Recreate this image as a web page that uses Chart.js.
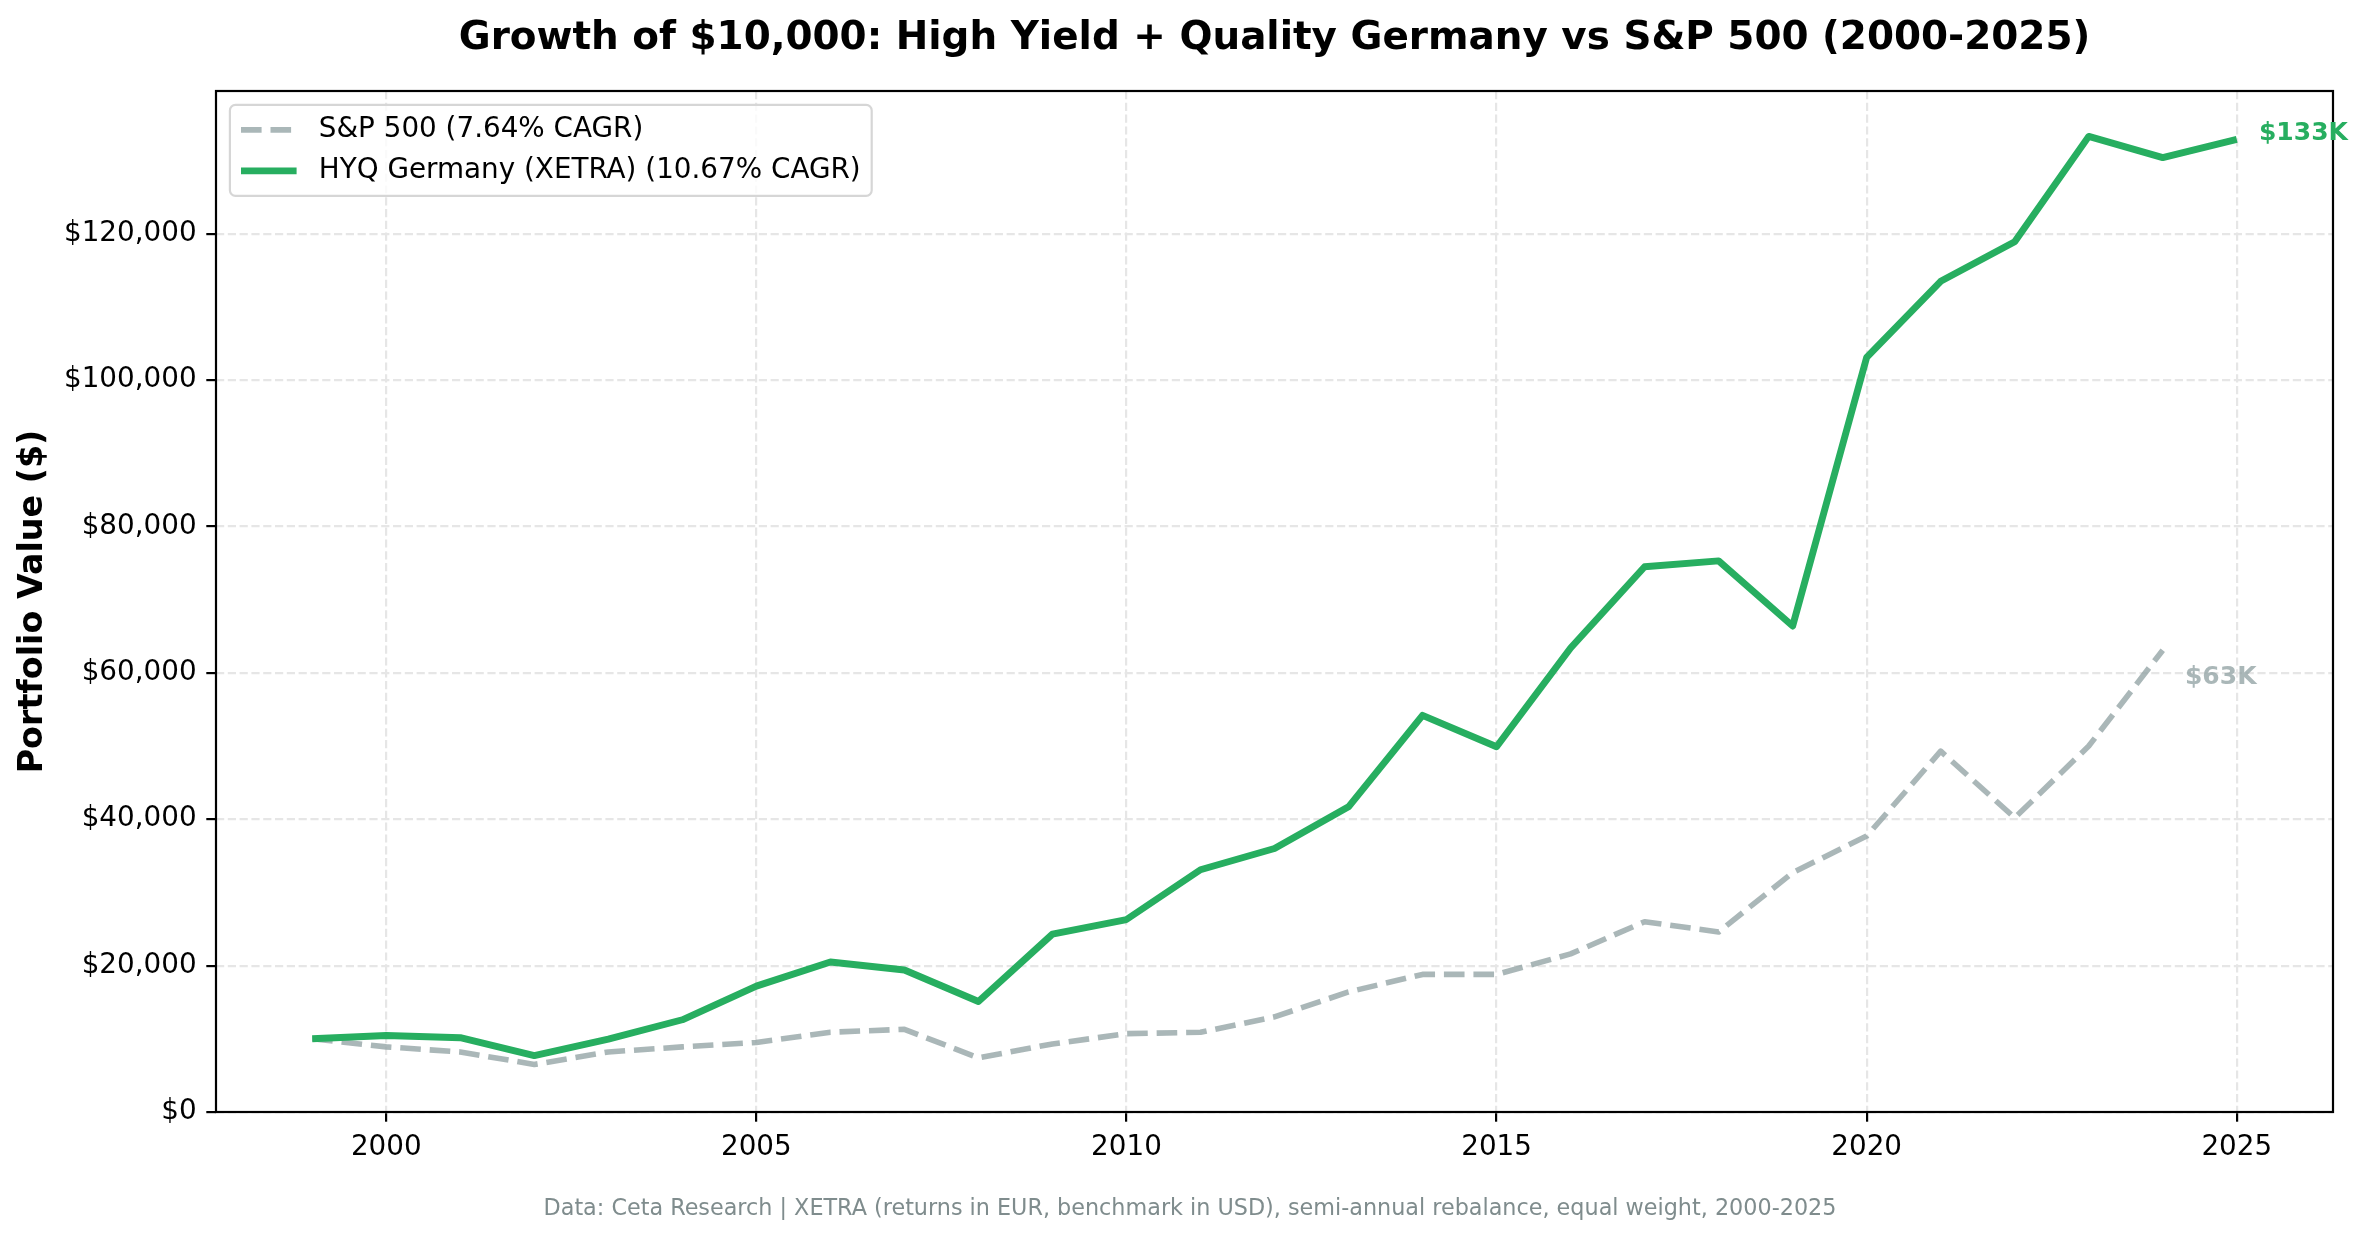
<!DOCTYPE html>
<html>
<head>
<meta charset="utf-8">
<script src="https://cdn.jsdelivr.net/npm/chart.js@4.4.1/dist/chart.umd.min.js"></script>
<style>
html,body{margin:0;padding:0;background:#fff;overflow:hidden}
#wrap{position:relative;width:2368px;height:1239px}
</style>
</head>
<body>
<div id="wrap"><canvas id="c" width="2368" height="1239"></canvas></div>
<script>
// ---- data ----
const years = [1999,2000,2001,2002,2003,2004,2005,2006,2007,2008,2009,2010,2011,2012,2013,2014,2015,2016,2017,2018,2019,2020,2021,2022,2023,2024,2025];
const hyqValues = [10000,10460,10150,7700,9950,12600,17200,20500,19400,15100,24300,26300,33100,36000,41700,54200,49900,63400,74500,75300,66400,103100,113500,118900,133300,130400,132900];
const spValues = [10000,8900,8200,6500,8200,8900,9500,10900,11300,7400,9300,10700,10900,13000,16400,18800,18800,21600,26000,24600,32700,37700,49300,40200,50000,63100];
const spLabel = 'S&P 500 (7.64% CAGR)';
const hyqLabel = 'HYQ Germany (XETRA) (10.67% CAGR)';
const xTicks = [2000,2005,2010,2015,2020,2025];
const yTicks = [0,20000,40000,60000,80000,100000,120000];
const titleText = 'Growth of $10,000: High Yield + Quality Germany vs S&P 500 (2000-2025)';
const yTitle = 'Portfolio Value ($)';
const footerText = 'Data: Ceta Research | XETRA (returns in EUR, benchmark in USD), semi-annual rebalance, equal weight, 2000-2025';

const GREEN = '#27ae60';
const GRAY = 'rgba(149,165,166,0.8)';
const FONT = "'DejaVu Sans', sans-serif";

function toPoints(vals){ return vals.map((v,i)=>({x:years[i], y:v})); }

const decor = {
  id:'decor',
  beforeDraw(chart){
    const c = chart.ctx;
    c.save(); c.fillStyle = '#fff'; c.fillRect(0,0,chart.width,chart.height); c.restore();
  },
  afterDraw(chart){
    const c = chart.ctx, a = chart.chartArea;
    const xs = chart.scales.x, ys = chart.scales.y;
    c.save();
    // axes box
    c.strokeStyle = '#000'; c.lineWidth = 2.2; c.setLineDash([]);
    c.strokeRect(a.left, a.top, a.right-a.left, a.bottom-a.top);
    // title
    c.fillStyle = '#000';
    c.font = "bold 38.9px " + FONT;
    c.textAlign = 'center'; c.textBaseline = 'alphabetic';
    c.fillText(titleText, (a.left+a.right)/2, 49);
    // y title
    c.save();
    c.translate(33, (a.top+a.bottom)/2);
    c.rotate(-Math.PI/2);
    c.font = "bold 33.3px " + FONT;
    c.textAlign = 'center'; c.textBaseline = 'middle';
    c.fillText(yTitle, 0, 0);
    c.restore();
    // footer
    c.font = "22.3px " + FONT;
    c.fillStyle = '#7f8c8d';
    c.textAlign = 'center'; c.textBaseline = 'middle';
    c.fillText(footerText, chart.width/2 + 6, 1209);
    // end labels
    c.font = "bold 25px " + FONT;
    c.textAlign = 'left'; c.textBaseline = 'middle';
    const hi = hyqValues.length-1, si = spValues.length-1;
    c.fillStyle = GREEN;
    c.fillText('$' + Math.round(hyqValues[hi]/1000) + 'K', xs.getPixelForValue(years[hi]) + 22.2, ys.getPixelForValue(hyqValues[hi]) - 6);
    c.fillStyle = GRAY;
    c.fillText('$' + Math.round(spValues[si]/1000) + 'K', xs.getPixelForValue(years[si]) + 22.2, ys.getPixelForValue(spValues[si]) + 27.8);
    // legend
    const fs = 27.8;
    c.font = fs + "px " + FONT;
    const ds = chart.data.datasets;
    let maxW = 0;
    ds.forEach(d=>{ maxW = Math.max(maxW, c.measureText(d.label).width); });
    const bx = a.left + 13.9, by = a.top + 13.9;
    const pad = 11.1, hl = 55.6, htp = 22.2, rowH = 41;
    const bw = pad + hl + htp + maxW + pad;
    const bh = 91;
    c.beginPath();
    c.roundRect(bx, by, bw, bh, 5.6);
    c.fillStyle = 'rgba(255,255,255,0.8)';
    c.fill();
    c.strokeStyle = '#d6d6d6'; c.lineWidth = 2.2;
    c.stroke();
    ds.forEach((d,i)=>{
      const cy = by + 25 + i*rowH;
      c.beginPath();
      c.strokeStyle = d.borderColor;
      c.lineWidth = d.borderWidth;
      c.setLineDash(d.borderDash || []);
      c.lineCap = 'butt';
      c.moveTo(bx+pad, cy); c.lineTo(bx+pad+hl, cy);
      c.stroke();
      c.setLineDash([]);
      c.fillStyle = '#000';
      c.textAlign = 'left'; c.textBaseline = 'middle';
      c.fillText(d.label, bx+pad+hl+htp, cy);
    });
    c.restore();
  }
};

const tickFont = {family: FONT, size: 27.8};
new Chart(document.getElementById('c').getContext('2d'), {
  type: 'line',
  data: {
    datasets: [
      {label: spLabel, data: toPoints(spValues), borderColor: GRAY, borderWidth: 5.6,
       borderDash: [20.6, 8.9], borderCapStyle: 'butt', borderJoinStyle: 'round',
       pointRadius: 0, tension: 0, fill: false, order: 1},
      {label: hyqLabel, data: toPoints(hyqValues), borderColor: GREEN, borderWidth: 6.9,
       borderCapStyle: 'butt', borderJoinStyle: 'round',
       pointRadius: 0, tension: 0, fill: false, order: 0}
    ]
  },
  options: {
    responsive: false, animation: false, devicePixelRatio: 1,
    layout: {padding: {top: 91, right: 35, left: 0, bottom: 0}},
    plugins: {legend: {display: false}, title: {display: false}, tooltip: {enabled: false}},
    scales: {
      x: {
        type: 'linear', min: 1997.7, max: 2026.3,
        afterBuildTicks: s => { s.ticks = xTicks.map(v => ({value: v})); },
        afterFit: s => { s.height = 127; },
        ticks: {font: tickFont, color: '#000', padding: 9.7, maxRotation: 0, autoSkip: false,
                callback: v => String(v)},
        grid: {color: '#e6e6e6', lineWidth: 2.2, tickColor: '#000', tickWidth: 2.2, tickLength: 9.7, drawTicks: true},
        border: {display: false, dash: [8.2, 3.6]}
      },
      y: {
        type: 'linear', min: 0, max: 139500,
        afterBuildTicks: s => { s.ticks = yTicks.map(v => ({value: v})); },
        afterFit: s => { s.width = 216; },
        ticks: {font: tickFont, color: '#000', padding: 9.7, autoSkip: false,
                callback: v => '$' + Number(v).toLocaleString('en-US')},
        grid: {color: '#e6e6e6', lineWidth: 2.2, tickColor: '#000', tickWidth: 2.2, tickLength: 9.7, drawTicks: true},
        border: {display: false, dash: [8.2, 3.6]}
      }
    }
  },
  plugins: [decor]
});
</script>
</body>
</html>
